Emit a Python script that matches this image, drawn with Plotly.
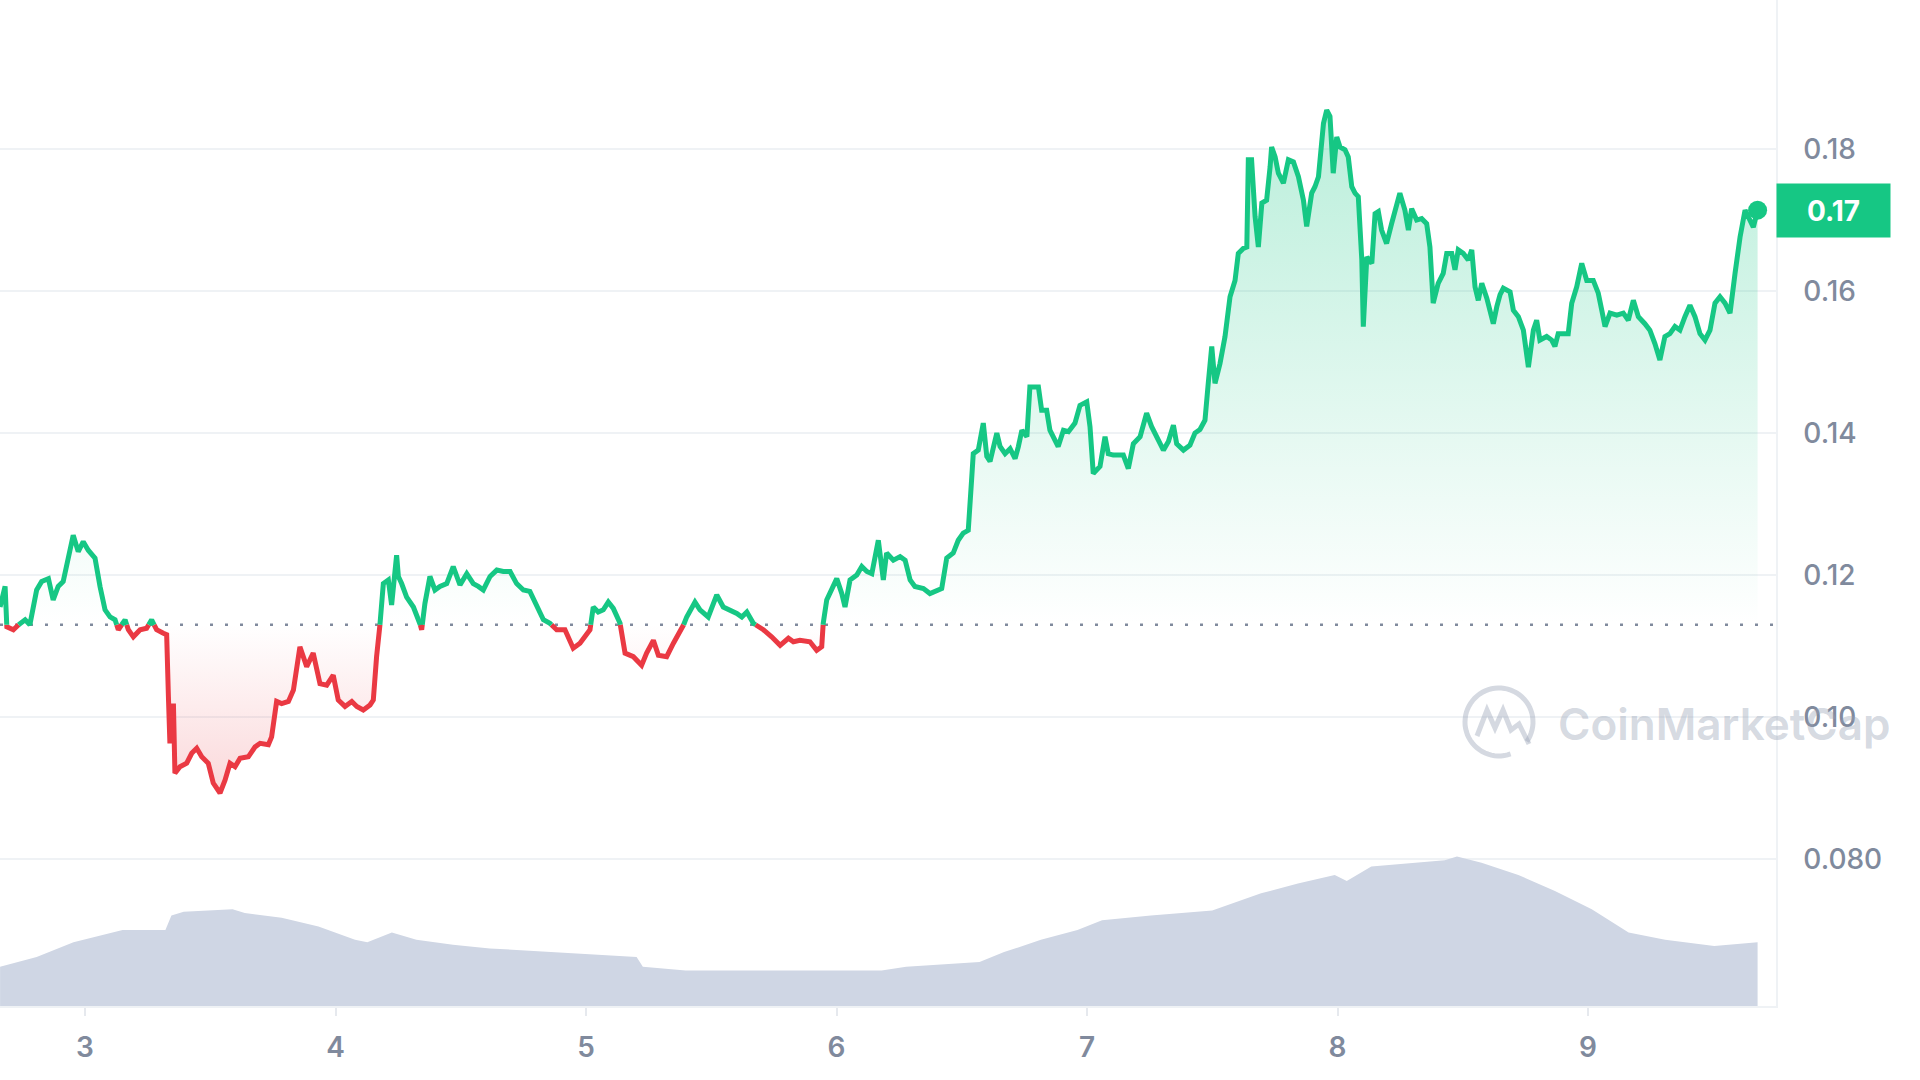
import numpy as np
import plotly.graph_objects as go

# ---------------- data ----------------
price_days = [
    2.661, 2.681, 2.688, 2.714, 2.741, 2.761, 2.780, 2.807, 2.827, 2.854,
    2.873, 2.893, 2.913, 2.933, 2.953, 2.973, 2.993, 3.013, 3.040, 3.060,
    3.080, 3.100, 3.120, 3.133, 3.160, 3.173, 3.193, 3.220, 3.246, 3.266,
    3.286, 3.313, 3.326, 3.333, 3.339, 3.353, 3.359, 3.379, 3.406, 3.426,
    3.446, 3.466, 3.492, 3.512, 3.539, 3.559, 3.579, 3.599, 3.619, 3.652,
    3.679, 3.699, 3.732, 3.745, 3.765, 3.785, 3.812, 3.832, 3.858, 3.885,
    3.911, 3.938, 3.965, 3.991, 4.011, 4.038, 4.065, 4.085, 4.111, 4.138,
    4.151, 4.164, 4.178, 4.191, 4.211, 4.224, 4.244, 4.251, 4.264, 4.284,
    4.311, 4.337, 4.344, 4.357, 4.377, 4.397, 4.417, 4.444, 4.470, 4.497,
    4.524, 4.550, 4.570, 4.590, 4.617, 4.644, 4.670, 4.697, 4.723, 4.750,
    4.776, 4.803, 4.830, 4.856, 4.883, 4.916, 4.929, 4.949, 4.976, 4.996,
    5.016, 5.029, 5.049, 5.069, 5.089, 5.109, 5.136, 5.156, 5.189, 5.222,
    5.242, 5.269, 5.289, 5.322, 5.349, 5.382, 5.402, 5.435, 5.455, 5.488,
    5.522, 5.548, 5.575, 5.602, 5.622, 5.642, 5.668, 5.708, 5.741, 5.775,
    5.808, 5.828, 5.854, 5.894, 5.921, 5.941, 5.947, 5.961, 5.981, 6.001,
    6.021, 6.034, 6.054, 6.081, 6.101, 6.121, 6.141, 6.167, 6.187, 6.200,
    6.227, 6.254, 6.274, 6.294, 6.313, 6.347, 6.373, 6.400, 6.420, 6.440,
    6.466, 6.486, 6.506, 6.526, 6.533, 6.540, 6.546, 6.566, 6.586, 6.600,
    6.613, 6.626, 6.640, 6.653, 6.673, 6.693, 6.713, 6.726, 6.740, 6.760,
    6.772, 6.792, 6.806, 6.819, 6.839, 6.852, 6.865, 6.885, 6.906, 6.926,
    6.952, 6.972, 6.999, 7.012, 7.025, 7.052, 7.072, 7.085, 7.105, 7.145,
    7.165, 7.185, 7.212, 7.238, 7.258, 7.278, 7.305, 7.325, 7.345, 7.358,
    7.385, 7.411, 7.431, 7.451, 7.471, 7.484, 7.498, 7.511, 7.531, 7.551,
    7.571, 7.591, 7.604, 7.624, 7.638, 7.644, 7.657, 7.671, 7.684, 7.698,
    7.717, 7.731, 7.737, 7.751, 7.764, 7.784, 7.804, 7.824, 7.844, 7.864,
    7.877, 7.897, 7.910, 7.924, 7.944, 7.957, 7.970, 7.983, 7.997, 8.010,
    8.030, 8.043, 8.057, 8.070, 8.083, 8.097, 8.103, 8.117, 8.137, 8.150,
    8.163, 8.176, 8.196, 8.216, 8.236, 8.249, 8.269, 8.283, 8.296, 8.316,
    8.336, 8.356, 8.369, 8.382, 8.402, 8.422, 8.436, 8.456, 8.469, 8.482,
    8.502, 8.522, 8.536, 8.549, 8.562, 8.576, 8.596, 8.609, 8.622, 8.636,
    8.649, 8.662, 8.689, 8.702, 8.722, 8.742, 8.762, 8.782, 8.795, 8.808,
    8.835, 8.855, 8.868, 8.881, 8.901, 8.921, 8.935, 8.955, 8.975, 8.995,
    9.021, 9.041, 9.055, 9.068, 9.088, 9.115, 9.141, 9.161, 9.181, 9.201,
    9.227, 9.247, 9.267, 9.287, 9.307, 9.327, 9.347, 9.367, 9.387, 9.407,
    9.427, 9.447, 9.467, 9.487, 9.507, 9.527, 9.547, 9.567, 9.587, 9.607,
    9.627, 9.647, 9.660, 9.677,
]
price_usd = [
    0.1155, 0.1184, 0.1127, 0.1123, 0.1132, 0.1137, 0.1130, 0.1179, 0.1191, 0.1195,
    0.1165, 0.1184, 0.1191, 0.1226, 0.1256, 0.1233, 0.1247, 0.1235, 0.1224, 0.1184,
    0.1151, 0.1141, 0.1137, 0.1123, 0.1137, 0.1123, 0.1113, 0.1123, 0.1125, 0.1137,
    0.1123, 0.1118, 0.1116, 0.1029, 0.0963, 0.1019, 0.0921, 0.0930, 0.0935, 0.0949,
    0.0956, 0.0944, 0.0935, 0.0907, 0.0893, 0.0911, 0.0935, 0.0930, 0.0942, 0.0944,
    0.0958, 0.0963, 0.0961, 0.0972, 0.1022, 0.1019, 0.1022, 0.1038, 0.1099, 0.1071,
    0.1090, 0.1047, 0.1045, 0.1059, 0.1024, 0.1015, 0.1022, 0.1015, 0.1010, 0.1017,
    0.1024, 0.1085, 0.1132, 0.1188, 0.1193, 0.1158, 0.1228, 0.1198, 0.1188, 0.1169,
    0.1155, 0.1132, 0.1123, 0.1160, 0.1198, 0.1179, 0.1184, 0.1188, 0.1212, 0.1186,
    0.1202, 0.1188, 0.1184, 0.1179, 0.1198, 0.1207, 0.1205, 0.1205, 0.1188, 0.1179,
    0.1177, 0.1155, 0.1137, 0.1132, 0.1123, 0.1123, 0.1113, 0.1097, 0.1104, 0.1113,
    0.1123, 0.1155, 0.1148, 0.1151, 0.1162, 0.1153, 0.1132, 0.1090, 0.1085, 0.1073,
    0.1090, 0.1108, 0.1087, 0.1085, 0.1104, 0.1123, 0.1141, 0.1162, 0.1151, 0.1141,
    0.1172, 0.1155, 0.1151, 0.1146, 0.1141, 0.1148, 0.1132, 0.1123, 0.1113, 0.1101,
    0.1111, 0.1106, 0.1108, 0.1106, 0.1094, 0.1099, 0.1132, 0.1165, 0.1179, 0.1195,
    0.1174, 0.1155, 0.1193, 0.1200, 0.1212, 0.1205, 0.1202, 0.1249, 0.1193, 0.1231,
    0.1221, 0.1226, 0.1221, 0.1193, 0.1184, 0.1181, 0.1174, 0.1179, 0.1181, 0.1224,
    0.1231, 0.1249, 0.1259, 0.1263, 0.1292, 0.1338, 0.1371, 0.1376, 0.1414, 0.1367,
    0.1360, 0.1381, 0.1400, 0.1381, 0.1371, 0.1378, 0.1364, 0.1381, 0.1404, 0.1395,
    0.1465, 0.1465, 0.1465, 0.1432, 0.1432, 0.1404, 0.1395, 0.1381, 0.1404, 0.1402,
    0.1414, 0.1439, 0.1444, 0.1409, 0.1343, 0.1353, 0.1395, 0.1371, 0.1369, 0.1369,
    0.1350, 0.1385, 0.1395, 0.1428, 0.1409, 0.1395, 0.1376, 0.1388, 0.1411, 0.1385,
    0.1376, 0.1383, 0.1400, 0.1405, 0.1418, 0.1470, 0.1522, 0.1470, 0.1498, 0.1536,
    0.1592, 0.1615, 0.1653, 0.1660, 0.1662, 0.1785, 0.1785, 0.1705, 0.1662, 0.1724,
    0.1728, 0.1775, 0.1803, 0.1789, 0.1766, 0.1752, 0.1785, 0.1782, 0.1761, 0.1728,
    0.1691, 0.1738, 0.1747, 0.1761, 0.1836, 0.1855, 0.1846, 0.1766, 0.1817, 0.1803,
    0.1799, 0.1789, 0.1747, 0.1738, 0.1733, 0.1644, 0.1550, 0.1648, 0.1639, 0.1709,
    0.1712, 0.1686, 0.1667, 0.1695, 0.1724, 0.1738, 0.1714, 0.1686, 0.1716, 0.1700,
    0.1702, 0.1695, 0.1662, 0.1583, 0.1611, 0.1625, 0.1653, 0.1653, 0.1630, 0.1658,
    0.1653, 0.1644, 0.1658, 0.1606, 0.1587, 0.1611, 0.1590, 0.1569, 0.1554, 0.1578,
    0.1595, 0.1604, 0.1599, 0.1573, 0.1564, 0.1545, 0.1493, 0.1545, 0.1559, 0.1531,
    0.1536, 0.1531, 0.1522, 0.1540, 0.1540, 0.1540, 0.1583, 0.1606, 0.1639, 0.1615,
    0.1615, 0.1597, 0.1573, 0.1550, 0.1569, 0.1566, 0.1569, 0.1559, 0.1587, 0.1564,
    0.1554, 0.1545, 0.1526, 0.1503, 0.1536, 0.1540, 0.1550, 0.1545, 0.1564, 0.1580,
    0.1564, 0.1540, 0.1531, 0.1545, 0.1583, 0.1592, 0.1583, 0.1569, 0.1625, 0.1676,
    0.1714, 0.1700, 0.1690, 0.1714,
]

volume_days = [
    2.661, 2.807, 2.954, 3.150, 3.321, 3.345, 3.394, 3.589, 3.638, 3.785,
    3.932, 4.078, 4.127, 4.225, 4.323, 4.469, 4.616, 4.860, 5.007, 5.202,
    5.227, 5.398, 6.180, 6.278, 6.571, 6.669, 6.816, 6.962, 7.060, 7.255,
    7.500, 7.695, 7.842, 7.989, 8.037, 8.135, 8.428, 8.477, 8.575, 8.722,
    8.868, 9.015, 9.162, 9.308, 9.504, 9.677,
]
volume_m = [
    32, 40, 52, 62, 62, 74, 77, 79, 76, 72,
    65, 54, 52, 60, 54, 50, 47, 44, 42, 40,
    32, 29, 29, 32, 36, 44, 54, 62, 70, 74,
    78, 92, 100, 107, 102, 114, 119, 122, 117, 107,
    94, 79, 60, 54, 49, 52,
]

baseline_price = 0.1130
last_price_label = "0.17"
y_tickvals = [0.08, 0.10, 0.12, 0.14, 0.16, 0.18]
y_ticktext = ["0.080", "0.10", "0.12", "0.14", "0.16", "0.18"]
x_tickvals = [3, 4, 5, 6, 7, 8, 9]
x_ticktext = ["3", "4", "5", "6", "7", "8", "9"]

GREEN = "#16c784"
RED = "#ea3943"
GREY = "#808a9d"
GRID = "#eff2f5"

# --------- split the series at the baseline ---------
xs, ys = [], []
for i, (d, p) in enumerate(zip(price_days, price_usd)):
    if i > 0:
        p0, d0 = price_usd[i - 1], price_days[i - 1]
        if (p0 - baseline_price) * (p - baseline_price) < 0:
            t = (baseline_price - p0) / (p - p0)
            xs.append(d0 + t * (d - d0))
            ys.append(baseline_price)
    xs.append(d)
    ys.append(p)

green_line = [y if y >= baseline_price else None for y in ys]
red_line = [y if y <= baseline_price else None for y in ys]
green_fill = [max(y, baseline_price) for y in ys]
red_fill = [min(y, baseline_price) for y in ys]
base_vals = [baseline_price] * len(xs)

fig = go.Figure()

# volume
fig.add_trace(go.Scatter(
    x=volume_days, y=volume_m, yaxis="y2", mode="lines",
    line=dict(width=0, color="rgb(207,214,228)"),
    fill="tozeroy", fillcolor="rgb(207,214,228)", hoverinfo="skip",
    showlegend=False,
))

# green area
fig.add_trace(go.Scatter(x=xs, y=base_vals, mode="lines", line=dict(width=0),
                         hoverinfo="skip", showlegend=False))
fig.add_trace(go.Scatter(
    x=xs, y=green_fill, mode="lines", line=dict(width=0), fill="tonexty",
    fillgradient=dict(type="vertical", start=baseline_price, stop=0.186,
                      colorscale=[[0, "rgba(22,199,132,0)"], [1, "rgba(22,199,132,0.30)"]]),
    hoverinfo="skip", showlegend=False,
))
# red area
fig.add_trace(go.Scatter(x=xs, y=base_vals, mode="lines", line=dict(width=0),
                         hoverinfo="skip", showlegend=False))
fig.add_trace(go.Scatter(
    x=xs, y=red_fill, mode="lines", line=dict(width=0), fill="tonexty",
    fillgradient=dict(type="vertical", start=0.089, stop=baseline_price,
                      colorscale=[[0, "rgba(234,57,67,0.20)"], [1, "rgba(234,57,67,0)"]]),
    hoverinfo="skip", showlegend=False,
))

# lines
fig.add_trace(go.Scatter(x=xs, y=red_line, mode="lines", connectgaps=False,
                         line=dict(color=RED, width=5), showlegend=False))
fig.add_trace(go.Scatter(x=xs, y=green_line, mode="lines", connectgaps=False,
                         line=dict(color=GREEN, width=5), showlegend=False))
# end marker
fig.add_trace(go.Scatter(x=[price_days[-1]], y=[price_usd[-1]], mode="markers",
                         marker=dict(color=GREEN, size=19), showlegend=False))

# dotted baseline
fig.add_shape(type="line", xref="paper", x0=0, x1=1, yref="y",
              y0=baseline_price, y1=baseline_price, layer="below",
              line=dict(color=GREY, width=2.5, dash="3px,12px"))

# watermark logo (circle + wave), pixel-sized around an anchor
theta = np.linspace(np.radians(-35), np.radians(290), 60)
circ = [(34 * np.cos(t), 34 * np.sin(t)) for t in theta]
circ_path = "M " + " L ".join(f"{x:.1f},{y:.1f}" for x, y in circ)
wave = [(-22, -14), (-12, 12), (-4, -6), (4, 12), (12, -8), (20, -2), (30, -22)]
wave_path = "M " + " L ".join(f"{x},{y}" for x, y in wave)
for pth in (circ_path, wave_path):
    fig.add_shape(type="path", path=pth, xref="paper", yref="paper",
                  xsizemode="pixel", ysizemode="pixel",
                  xanchor=1499 / 1776, yanchor=1 - 722 / 1006,
                  line=dict(color="rgba(150,160,180,0.40)", width=5), layer="above")

fig.add_annotation(text="CoinMarketCap", xref="paper", yref="paper",
                   x=1556 / 1776, y=1 - 724 / 1006, xanchor="left", yanchor="middle",
                   showarrow=False,
                   font=dict(family="Inter", size=44, color="rgba(150,160,180,0.40)", weight=600))

# last price tag
fig.add_annotation(text=f"<b>{last_price_label}</b>", xref="paper", yref="y",
                   x=1, y=price_usd[-1], xanchor="left", yanchor="middle",
                   showarrow=False, bgcolor=GREEN, width=113, height=53, borderpad=0,
                   font=dict(family="Inter", size=28, color="white"))

fig.update_layout(
    width=1920, height=1080,
    margin=dict(l=0, r=144, t=0, b=74),
    paper_bgcolor="white", plot_bgcolor="white",
    showlegend=False,
    xaxis=dict(
        range=[2.6607, 9.7505], tickvals=x_tickvals, ticktext=x_ticktext,
        showgrid=False, zeroline=False, showline=True, linecolor=GRID, linewidth=1.5,
        ticks="outside", ticklen=8, tickcolor="#e6e9ee", tickwidth=1.5,
        ticklabelstandoff=8,
        tickfont=dict(family="Inter", size=28, color=GREY, weight=600),
    ),
    yaxis=dict(
        range=[0.0593, 0.2010], side="right", tickvals=y_tickvals, ticktext=y_ticktext,
        showgrid=True, gridcolor=GRID, gridwidth=1.5, zeroline=False,
        showline=True, linecolor=GRID, linewidth=1.5, ticks="",
        ticklabelstandoff=20,
        tickfont=dict(family="Inter", size=28, color=GREY, weight=500),
    ),
    yaxis2=dict(range=[0, 821.5], overlaying="y", visible=False),
)

fig.write_html("out.html")
